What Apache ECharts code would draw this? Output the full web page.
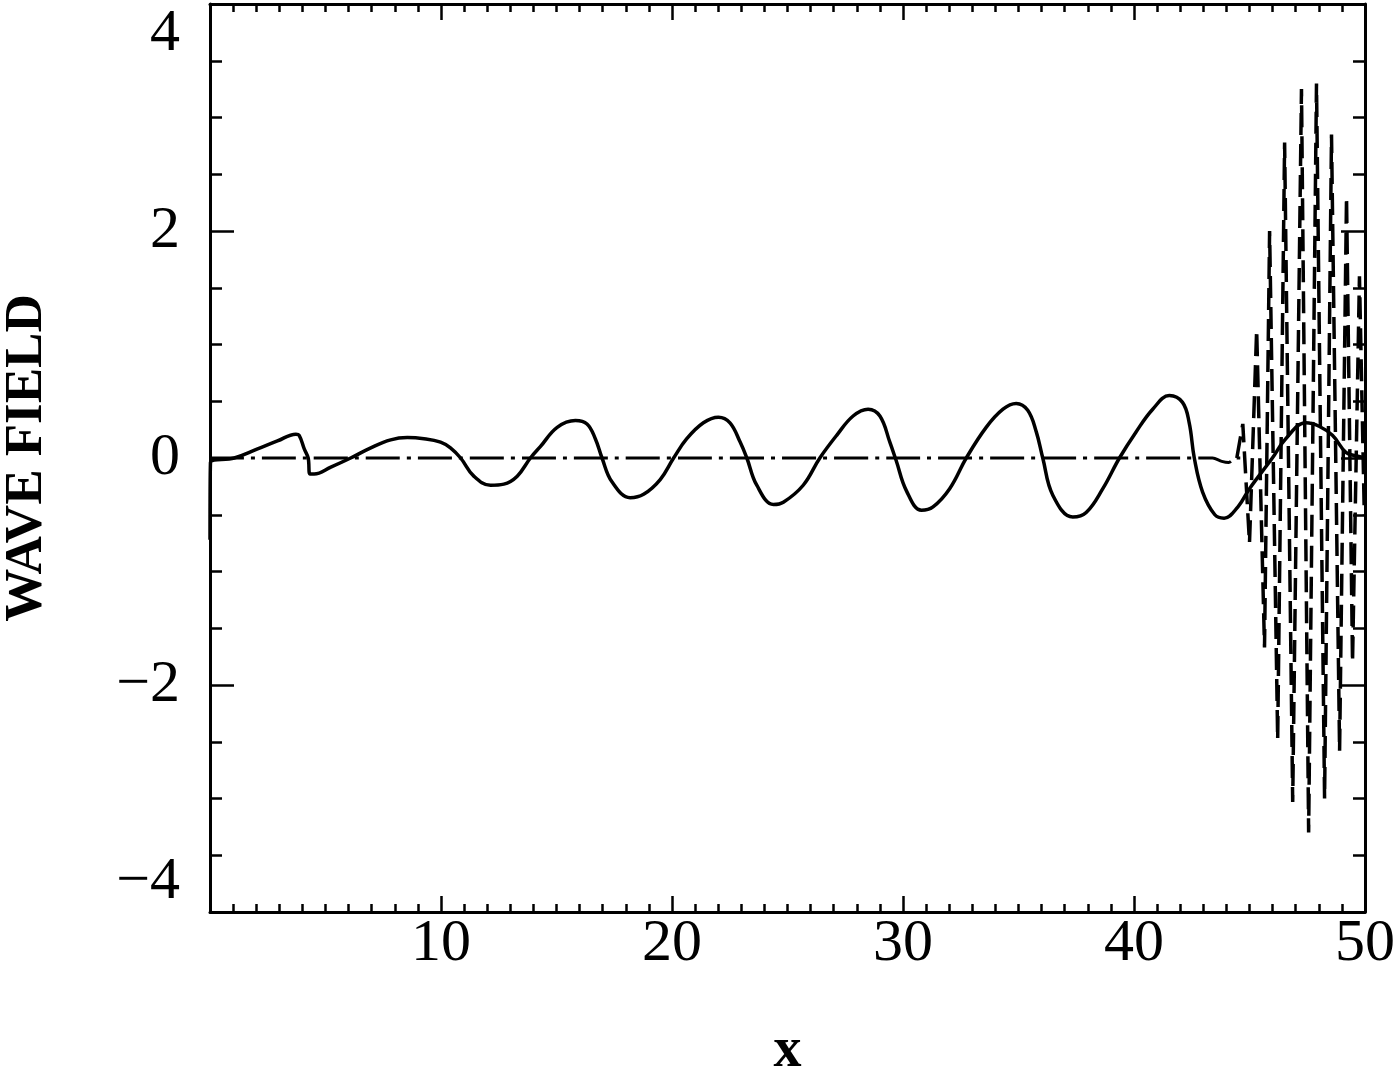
<!DOCTYPE html>
<html>
<head>
<meta charset="utf-8">
<title>Wave field</title>
<script src="https://cdn.jsdelivr.net/npm/echarts@6/dist/echarts.min.js"></script>
<style>
  html, body { margin: 0; padding: 0; background: #fff; }
  #chart { width: 1400px; height: 1073px; }
</style>
</head>
<body>
<div id="chart"></div>
<script>
// tick labels
const xTickLabels = [10, 20, 30, 40, 50];
const yTickLabels = [-4, -2, 0, 2, 4];

// solid curve [x, field]
const waveSolid = [
  [0, -0.72], [0.02, -0.04], [1.05, 0], [2.06, 0.08], [2.92, 0.15], [3.72, 0.21], [3.86, 0.2],
  [4.08, 0.08], [4.25, 0], [4.33, -0.14], [4.51, -0.14], [5.23, -0.08], [6.09, 0],
  [6.96, 0.09], [7.82, 0.16], [8.54, 0.18], [9.26, 0.17], [9.98, 0.14], [10.41, 0.09],
  [10.85, 0], [11.42, -0.16], [12.14, -0.24], [12.72, -0.23], [13.3, -0.16], [13.87, 0],
  [14.3, 0.1], [15.03, 0.27], [15.82, 0.33], [16.32, 0.3], [16.68, 0.17], [16.97, 0],
  [17.4, -0.21], [18.19, -0.35], [18.77, -0.32], [19.49, -0.19], [20.07, 0], [20.64, 0.17],
  [21.36, 0.31], [22.01, 0.36], [22.51, 0.31], [22.95, 0.14], [23.24, 0], [23.67, -0.24],
  [24.39, -0.41], [24.82, -0.39], [25.68, -0.24], [26.4, 0], [27.13, 0.2], [27.84, 0.37],
  [28.49, 0.43], [29.0, 0.37], [29.43, 0.14], [29.7, -0.02], [30.15, -0.29], [30.8, -0.46],
  [31.3, -0.43], [32.02, -0.27], [32.74, 0], [33.6, 0.27], [34.33, 0.43], [34.9, 0.48],
  [35.4, 0.42], [35.77, 0.23], [36.05, 0], [36.49, -0.33], [37.35, -0.52], [37.93, -0.48],
  [38.65, -0.27], [39.37, 0], [40.09, 0.23], [40.81, 0.43], [41.53, 0.55], [42.1, 0.49],
  [42.39, 0.31], [42.61, 0], [42.97, -0.3], [43.5, -0.5], [43.9, -0.53], [44.5, -0.43],
  [45.0, -0.27], [45.99, 0], [46.57, 0.17], [47.44, 0.31], [48.01, 0.28], [48.59, 0.2],
  [49.17, 0.05], [49.6, 0.02], [50, 0]
];

// dash-dot baseline [x, field]
const baseDashDot = [
  [0, 0], [43.4, 0], [43.8, -0.03], [44.1, -0.04], [44.4, 0], [44.6, 0]
];

// dashed fast oscillation near the right edge [x, field]
const burstDashed = [
  [44.45, 0], [44.71, 0.3], [45.0, -0.75], [45.31, 1.13], [45.65, -1.67], [45.87, 2.0],
  [46.22, -2.48], [46.52, 2.78], [46.87, -3.03], [47.25, 3.25], [47.56, -3.3],
  [47.9, 3.3], [48.25, -3.0], [48.55, 2.85], [48.9, -2.58], [49.2, 2.3],
  [49.46, -1.8], [49.76, 1.6], [49.97, -0.5]
];

const chart = echarts.init(document.getElementById('chart'));

const serif = '"Liberation Serif", "DejaVu Serif", serif';
const axisLine = { show: true, onZero: false, lineStyle: { color: '#000', width: 3 } };

function fmtNum(v) {
  return String(v).replace('-', '\u2212');
}

function xAxisCfg(pos, showLabels) {
  return {
    type: 'value',
    position: pos,
    min: 0,
    max: 50,
    interval: 10,
    axisLine: axisLine,
    axisTick: { show: true, inside: true, length: 16, lineStyle: { color: '#000', width: 2.5 } },
    minorTick: { show: true, splitNumber: 10, length: 8, lineStyle: { color: '#000', width: 2.5 } },
    splitLine: { show: false },
    axisLabel: {
      show: showLabels,
      margin: 2,
      fontFamily: serif,
      fontSize: 60,
      color: '#000',
      formatter: function (v) { return xTickLabels.indexOf(v) >= 0 ? fmtNum(v) : ''; }
    }
  };
}

function yAxisCfg(pos, showLabels) {
  return {
    type: 'value',
    position: pos,
    min: -4,
    max: 4,
    interval: 2,
    axisLine: axisLine,
    axisTick: { show: true, inside: true, length: 24, lineStyle: { color: '#000', width: 2.5 } },
    minorTick: { show: true, splitNumber: 4, length: 12, lineStyle: { color: '#000', width: 2.5 } },
    splitLine: { show: false },
    axisLabel: {
      show: showLabels,
      margin: 30,
      fontFamily: serif,
      fontSize: 60,
      color: '#000',
      verticalAlignMaxLabel: 'top',
      verticalAlignMinLabel: 'bottom',
      formatter: function (v) { return yTickLabels.indexOf(v) >= 0 ? fmtNum(v) : ''; }
    }
  };
}

const xBottom = xAxisCfg('bottom', true);
xBottom.name = 'x';
xBottom.nameLocation = 'middle';
xBottom.nameGap = 112;
xBottom.nameTextStyle = { fontFamily: serif, fontSize: 56, fontWeight: 'bold', color: '#000' };

const yLeft = yAxisCfg('left', true);
yLeft.name = 'WAVE FIELD';
yLeft.nameLocation = 'middle';
yLeft.nameGap = 156;
yLeft.nameTextStyle = { fontFamily: serif, fontSize: 53, fontWeight: 'bold', color: '#000' };

chart.setOption({
  animation: false,
  backgroundColor: '#fff',
  grid: { left: 210, right: 35, top: 4, bottom: 161, containLabel: false, outerBoundsMode: 'none' },
  xAxis: [xBottom, xAxisCfg('top', false)],
  yAxis: [yLeft, yAxisCfg('right', false)],
  series: [
    {
      name: 'solid',
      type: 'line',
      data: waveSolid,
      showSymbol: false,
      smooth: 0.4,
      lineStyle: { color: '#000', width: 3.5 }
    },
    {
      name: 'dashdot',
      type: 'line',
      data: baseDashDot,
      showSymbol: false,
      smooth: 0.3,
      lineStyle: { color: '#000', width: 3, type: [34, 7, 4, 7] }
    },
    {
      name: 'dashed',
      type: 'line',
      data: burstDashed,
      showSymbol: false,
      lineStyle: { color: '#000', width: 3.5, type: [22, 9] }
    }
  ]
});
</script>
</body>
</html>
